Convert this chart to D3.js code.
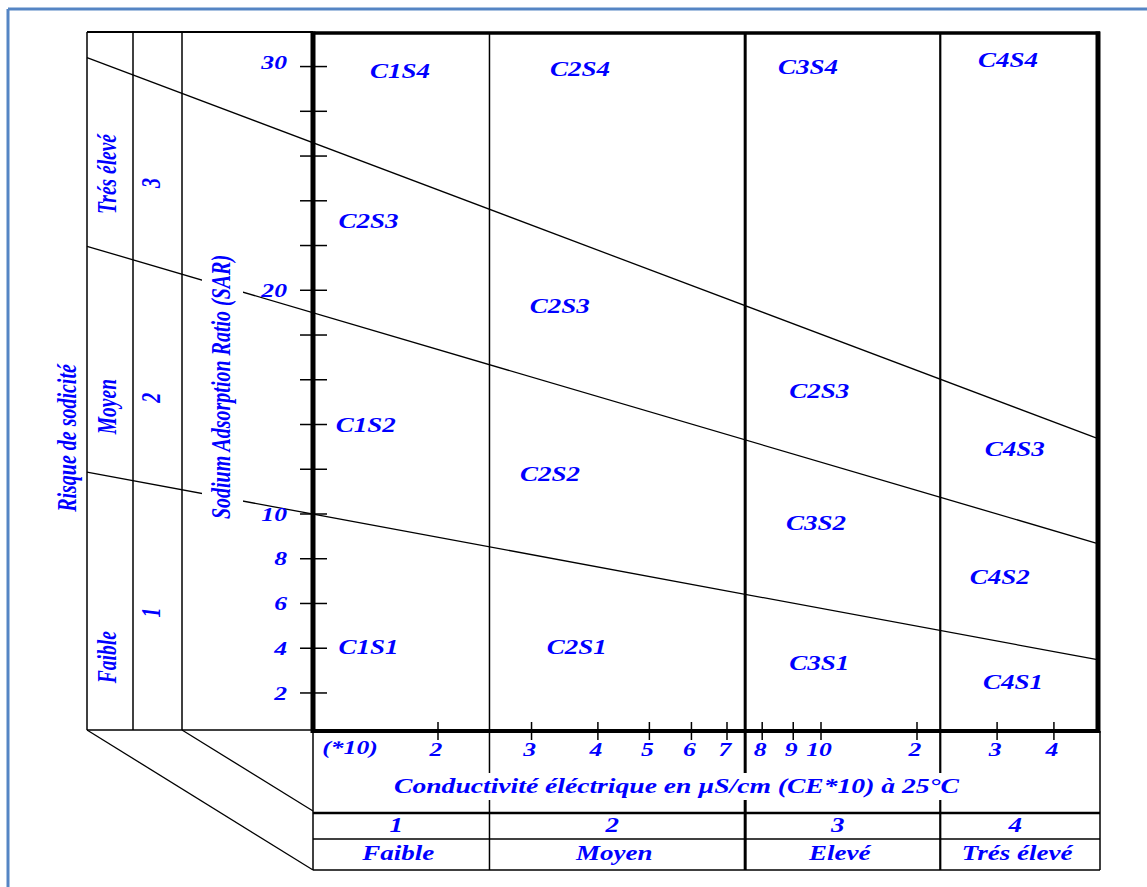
<!DOCTYPE html>
<html>
<head>
<meta charset="utf-8">
<script src="https://cdn.jsdelivr.net/npm/d3@7"></script>
<style>
  body { margin: 0; background: #fff; }
  svg { display: block; }
  .lbl { font-family: "Liberation Serif", "Times New Roman", serif; font-style: italic; font-weight: bold; fill: #0000ff; }
</style>
</head>
<body>
<svg id="chart" width="1147" height="887"></svg>
<script>
// Conductivity axis (µS/cm, shown as CE*10)
const condTicks = [200, 300, 400, 500, 600, 700, 800, 900, 1000, 2000, 3000, 4000];
const condTickLabels = ["2", "3", "4", "5", "6", "7", "8", "9", "10", "2", "3", "4"];
const condLimits = [250, 750, 2250];
const condClasses = ["1", "2", "3", "4"];
const condClassNames = ["Faible", "Moyen", "Elevé", "Trés élevé"];

// SAR axis
const sarTicks = [2, 4, 6, 8, 10, 12, 14, 16, 18, 20, 22, 24, 26, 28, 30];
const sarTickLabels = [2, 4, 6, 8, 10, 20, 30];

// sodium risk classes (left panel)
const sodiumClasses = ["1", "2", "3"];
const sodiumClassNames = ["Faible", "Moyen", "Trés élevé"];
const sodiumNumSar = [5.6, 15.2, 24.8];
const sodiumNameSar = [3.6, 14.8, 25.2];

// S1/S2, S2/S3, S3/S4 boundaries: SAR at 100 and at 5000 µS/cm
const sarLineStart = [10.0, 19.0, 26.6];
const sarLineEnd = [3.5, 8.7, 13.4];

// region labels
const regionNames = ["C1S4", "C2S4", "C3S4", "C4S4",
                     "C2S3", "C2S3", "C2S3", "C4S3",
                     "C1S2", "C2S2", "C3S2", "C4S2",
                     "C1S1", "C2S1", "C3S1", "C4S1"];
const regionCond = [162, 370, 952, 3170,
                    136, 339, 993, 3280,
                    134, 325, 981, 3040,
                    136, 365, 993, 3250];
const regionSar = [29.8, 29.9, 30.0, 30.3,
                   23.1, 19.3, 15.5, 12.9,
                   14.0, 11.8, 9.6, 7.2,
                   4.05, 4.05, 3.35, 2.5];

const svg = d3.select("#chart");

// layout
const plot = {left: 313, right: 1098, top: 33, bottom: 731};
const panel = {left: 87, col2: 133, col3: 182};
const box = {right: 1100, label: 813, row: 839, bottom: 870};

// hand-drawn log axis, calibrated on a few decades
const x = d3.scaleLog()
    .domain([100, 200, 700, 1000, 2000, 5000])
    .range([plot.left, 438, 727, 821, 917, plot.right]);

const y = d3.scaleLinear()
    .domain([0.3, 31.5])
    .range([plot.bottom, plot.top]);

function line(x1, y1, x2, y2, w) {
    svg.append("line")
        .attr("x1", x1).attr("y1", y1)
        .attr("x2", x2).attr("y2", y2)
        .attr("stroke", "#000")
        .attr("stroke-width", w || 1.4);
}

function label(s, px, py, o = {}) {
    return svg.append("text")
        .attr("class", "lbl")
        .attr("transform", `translate(${px},${py}) scale(${o.sx || 1.35},1)` + (o.rot ? " rotate(-90)" : ""))
        .attr("text-anchor", o.anchor || "middle")
        .attr("dy", "0.35em")
        .attr("font-size", o.size || 20)
        .text(s);
}

// page frame (blue)
svg.append("line").attr("x1", 8).attr("y1", 9).attr("x2", 1147).attr("y2", 9)
    .attr("stroke", "#5585c4").attr("stroke-width", 3);
svg.append("line").attr("x1", 8).attr("y1", 9).attr("x2", 8).attr("y2", 887)
    .attr("stroke", "#5585c4").attr("stroke-width", 3);

// left panel
[panel.left, panel.col2, panel.col3].forEach(px => line(px, 32, px, plot.bottom - 1, 1.5));
line(panel.left, 32, plot.left, 32, 2);
line(panel.left, plot.bottom - 1, plot.left, plot.bottom - 1, 1.5);

// perspective diagonals
line(panel.left, plot.bottom - 1, plot.left, box.bottom, 1.3);
line(panel.col3, plot.bottom - 1, plot.left, box.label - 2, 1.3);

// salinity / sodium boundary lines, extended through the left panel
sarLineStart.forEach((s0, i) => {
    const x1 = x(100), y1 = y(s0), x2 = x(5000), y2 = y(sarLineEnd[i]);
    const slope = (y2 - y1) / (x2 - x1);
    line(panel.left, y1 - slope * (x1 - panel.left), x2 - 2, y2, 1.3);
});

// gap behind the SAR title
svg.append("rect")
    .attr("x", 202).attr("y", 252)
    .attr("width", 41).attr("height", 272)
    .attr("fill", "#fff");

// class dividers
condLimits.forEach((c, i) => {
    const w = i === 1 ? 3 : (i === 2 ? 2.2 : 1.5);
    line(x(c), plot.top, x(c), 773, w);
    line(x(c), 800, x(c), box.bottom, w);
});

// bottom table
line(plot.left, plot.bottom, plot.left, box.bottom, 1.5);
line(box.right, plot.bottom, box.right, box.bottom, 1.5);
line(plot.left, box.label, box.right, box.label, 2.6);
line(plot.left, box.row, box.right, box.row, 1.5);
line(plot.left, box.bottom, box.right, box.bottom, 1.5);

// plot frame
line(plot.left, plot.top, plot.right + 2, plot.top, 3.5);
line(plot.left, plot.top - 1.5, plot.left, plot.bottom + 2, 5);
line(plot.right, plot.top - 1.5, plot.right, plot.bottom + 2, 5);
line(plot.left, plot.bottom, plot.right + 2, plot.bottom, 4);

// y ticks
sarTicks.forEach(v => line(plot.left - 13, y(v), plot.left + 14, y(v), 1.5));
sarTickLabels.forEach(v => label(String(v), plot.left - 26, y(v) - (v === 30 ? 4 : 0), {anchor: "end", size: 19}));

// x ticks
condTicks.forEach((v, i) => {
    line(x(v), plot.bottom - 9, x(v), plot.bottom + 9, 1.5);
    label(condTickLabels[i], x(v) - 2, 749, {size: 19});
});
label("(*10)", x(100) + 37, 747, {size: 19});
label("Conductivité éléctrique en µS/cm (CE*10) à 25°C", (plot.left + box.right) / 2 - 30, 786, {size: 20, sx: 1.38});

// conductivity classes
const edges = [plot.left].concat(condLimits.map(x)).concat([box.right]);
condClasses.forEach((c, i) => {
    const cx = (edges[i] + edges[i + 1]) / 2;
    label(c, cx - 5, 825);
    label(condClassNames[i], cx - 3, 853);
});

// left panel titles
label("Risque de sodicité", 67, 438, {rot: true});
label("Sodium Adsorption Ratio (SAR)", 221, 387, {rot: true});
sodiumClasses.forEach((c, i) => {
    label(c, 151, y(sodiumNumSar[i]), {rot: true});
    label(sodiumClassNames[i], 107, y(sodiumNameSar[i]), {rot: true, size: 19.5});
});

// region labels
regionNames.forEach((n, i) => label(n, x(regionCond[i]), y(regionSar[i])));
</script>
</body>
</html>
